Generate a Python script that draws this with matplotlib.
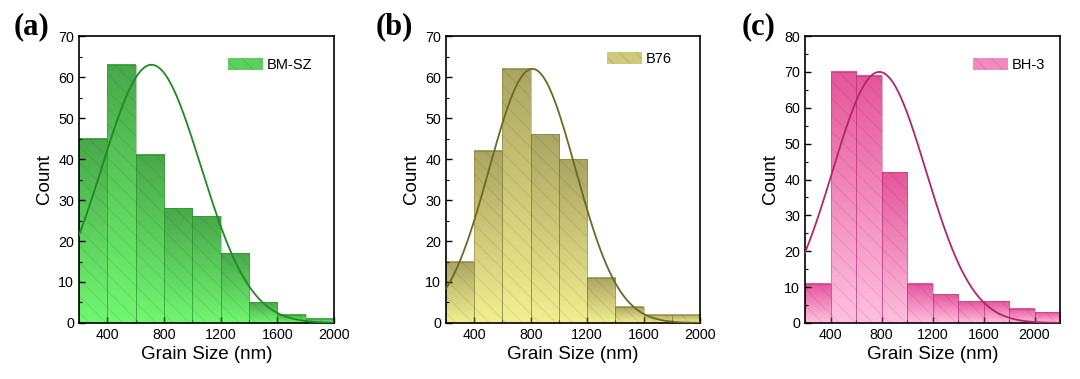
import matplotlib
matplotlib.use('Agg')
import matplotlib.pyplot as plt
from matplotlib.colors import LinearSegmentedColormap
from matplotlib.patches import Patch
from matplotlib.ticker import MultipleLocator
import numpy as np

plt.rcParams['font.family'] = ['Liberation Sans', 'DejaVu Sans']
plt.rcParams['hatch.linewidth'] = 0.6

# histogram data (bin left edges, width 200 nm)
edges_a = [200, 400, 600, 800, 1000, 1200, 1400, 1600, 1800]
counts_a = [45, 63, 41, 28, 26, 17, 5, 2, 1]
edges_b = [200, 400, 600, 800, 1000, 1200, 1400, 1600, 1800]
counts_b = [15, 42, 62, 46, 40, 11, 4, 2, 2]
edges_c = [200, 400, 600, 800, 1000, 1200, 1400, 1600, 1800, 2000]
counts_c = [11, 70, 69, 42, 11, 8, 6, 6, 4, 3]

labels = ['BM-SZ', 'B76', 'BH-3']
panel_tags = ['(a)', '(b)', '(c)']
xlims = [(200, 2000), (200, 2000), (200, 2200)]
ylims = [(0, 70), (0, 70), (0, 80)]
xticks = [[400, 800, 1200, 1600, 2000]] * 3

# (top colour, bottom colour, line colour)
colours = [('#48a84a', '#72f772', '#1f8a22'),
           ('#aaa562', '#f3ef90', '#6b6a22'),
           ('#e6559a', '#ffc0e0', '#b3246a')]

axes_pos = [[0.0731, 0.1478, 0.2361, 0.757],
            [0.4130, 0.1478, 0.2352, 0.757],
            [0.7454, 0.1478, 0.2361, 0.757]]
tag_x = [0.013, 0.348, 0.687]
leg_anchor = [(0.56, 0.945), (0.61, 0.965), (0.635, 0.945)]

fig = plt.figure(figsize=(10.8, 3.79), dpi=100)
width = 200

for i, (edges, counts) in enumerate([(edges_a, counts_a), (edges_b, counts_b), (edges_c, counts_c)]):
    ax = fig.add_axes(axes_pos[i])
    top, bot, lc = colours[i]
    cmap = LinearSegmentedColormap.from_list('g%d' % i, [bot, top])
    grad = np.linspace(0, 1, 256).reshape(-1, 1)
    for x0, h in zip(edges, counts):
        ax.imshow(grad, cmap=cmap, origin='lower', aspect='auto',
                  extent=[x0, x0 + width, 0, h], zorder=1, interpolation='bilinear')
    ax.bar(edges, counts, width=width, align='edge', fill=False, hatch='\\\\',
           edgecolor=(0.1, 0.1, 0.1, 0.12), linewidth=0, zorder=2)
    ax.bar(edges, counts, width=width, align='edge', fill=False,
           edgecolor=lc, linewidth=0.6, alpha=0.45, zorder=2)

    # normal curve from the binned data, scaled to the tallest bin
    centres = np.array(edges) + width / 2
    c = np.array(counts, dtype=float)
    mu = np.sum(centres * c) / c.sum()
    sd = np.sqrt(np.sum(c * (centres - mu) ** 2) / c.sum())
    xs = np.linspace(xlims[i][0], xlims[i][1], 400)
    ax.plot(xs, c.max() * np.exp(-(xs - mu) ** 2 / (2 * sd ** 2)), color=lc, lw=1.3, zorder=3)

    ax.set_xlim(*xlims[i])
    ax.set_ylim(*ylims[i])
    ax.set_xticks(xticks[i])
    ax.xaxis.set_minor_locator(MultipleLocator(200))
    ax.yaxis.set_major_locator(MultipleLocator(10))
    ax.yaxis.set_minor_locator(MultipleLocator(5))
    ax.tick_params(which='both', direction='in', top=False, right=False, labelsize=10.3)
    ax.tick_params(which='major', length=4, width=1)
    ax.tick_params(which='minor', length=2.5, width=0.8)
    for s in ax.spines.values():
        s.set_linewidth(1.2)
    ax.set_xlabel('Grain Size (nm)', fontsize=13.5, labelpad=3)
    ax.set_ylabel('Count', fontsize=13.5, labelpad=4)

    handle = Patch(facecolor=cmap(0.5), edgecolor=(0.1, 0.1, 0.1, 0.15), hatch='\\\\', linewidth=0)
    ax.legend([handle], [labels[i]], loc='upper left', bbox_to_anchor=leg_anchor[i],
              frameon=False, fontsize=10.5, handlelength=2.4, handleheight=0.9,
              handletextpad=0.3, borderaxespad=0)

    fig.text(tag_x[i], 0.93, panel_tags[i], fontsize=22, fontweight='bold',
             family='Liberation Serif', va='center', ha='left')

fig.savefig('out.png', dpi=100)
